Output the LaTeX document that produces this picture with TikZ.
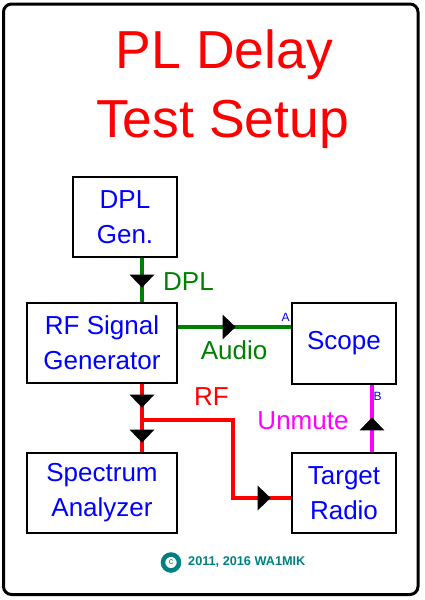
\documentclass[tikz,border=0pt]{standalone}
\usepackage{fontspec}
\setmainfont{Liberation Sans}
\usetikzlibrary{arrows.meta,decorations.markings}
\definecolor{dplgreen}{RGB}{0,128,0}
\definecolor{copyteal}{RGB}{0,128,128}
\definecolor{mutepink}{RGB}{255,0,255}
\tikzset{
  unit/.style={draw, line width=1.3pt, fill=white, text=blue, inner sep=0pt,
    align=center, font=\fontsize{26}{35}\selectfont},
  lbl/.style={inner sep=0pt, font=\fontsize{26}{30}\selectfont},
  pin/.style={inner sep=0pt, text=blue, font=\fontsize{12}{13}\selectfont},
  wire/.style={line width=4pt},
  midtri/.style={postaction={decorate, decoration={markings,
    mark=at position #1 with {\arrow{Triangle[width=24pt,length=13pt,color=black]}}}}}
}
\begin{document}
\begin{tikzpicture}[x=1pt, y=-1pt]
\useasboundingbox (0,0) rectangle (425,600);
\draw[line width=3pt, rounded corners=8pt] (3.5,4) rectangle (418,594.5);
% title
\node[red, inner sep=0pt, anchor=base, font=\fontsize{53.5}{60}\selectfont] (title1) at (224.5,68) {PL Delay};
\node[red, inner sep=0pt, anchor=base, font=\fontsize{53.5}{60}\selectfont] (title2) at (222.5,137) {Test Setup};
% boxes
\node[unit, minimum width=104pt, minimum height=80pt] (dpl) at (125,217) {DPL\\Gen.};
\node[unit, minimum width=150pt, minimum height=80pt] (rfgen) at (102,343) {RF Signal\\Generator};
\node[unit, minimum width=104pt, minimum height=81pt] (scope) at (344,343.5) {Scope};
\node[unit, minimum width=150pt, minimum height=80pt] (spec) at (102,493) {Spectrum\\Analyzer};
\node[unit, minimum width=104pt, minimum height=80pt] (radio) at (344,493) {Target\\Radio};
% connections
\draw[wire, dplgreen, midtri=30pt] ([xshift=17pt]dpl.south) -- ([xshift=17pt]dpl.south |- rfgen.north);
\draw[wire, dplgreen, midtri=58pt] ([yshift=16pt]rfgen.east) -- ([yshift=16pt]rfgen.east -| scope.west);
\draw[wire, red, midtri=24pt, midtri=59pt] ([xshift=40pt]rfgen.south) -- ([xshift=40pt]rfgen.south |- spec.north);
\coordinate (tap) at ([xshift=40pt,yshift=-36pt]rfgen.south);
\draw[wire, red, midtri=207pt] (tap) -- ++(91pt,0pt) |- ([yshift=-5pt]radio.west);
\draw[wire, mutepink, midtri=35pt] ([xshift=28pt]radio.north) -- ([xshift=28pt]radio.north |- scope.south);
% labels
\node[lbl, dplgreen, anchor=west] (dpllbl) at (163,282) {DPL};
\node[lbl, dplgreen] (audiolbl) at (234,350) {Audio};
\node[lbl, red] (rflbl) at (211.5,397) {RF};
\node[lbl, mutepink] (unmutelbl) at (303,421) {Unmute};
\node[pin] (pina) at (285.5,317) {A};
\node[pin] (pinb) at (377.5,396) {B};
% copyright
\node[circle, draw=copyteal, line width=4.5pt, fill=white, minimum size=16pt, inner sep=0pt,
  text=copyteal, font=\fontsize{9}{9}\selectfont] (copy) at (171,562.5) {c};
\node[anchor=west, inner sep=0pt, text=copyteal, font=\fontsize{12.7}{14}\selectfont\bfseries] (credit) at (188,562) {2011, 2016 WA1MIK};
\end{tikzpicture}
\end{document}
